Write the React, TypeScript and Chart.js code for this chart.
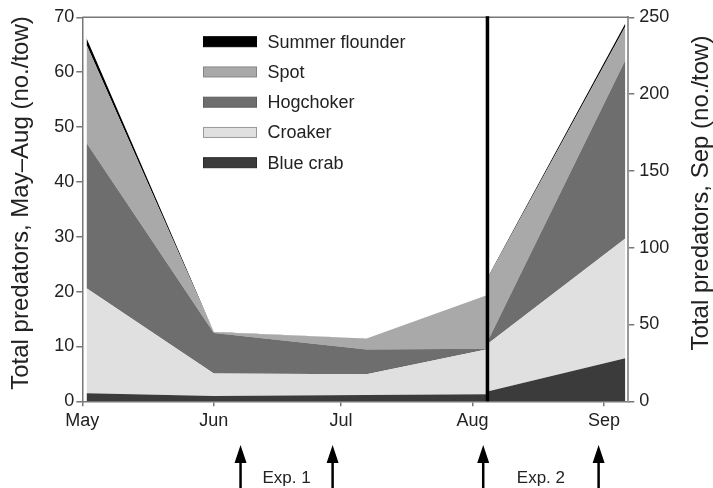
import React, { useEffect, useRef } from 'react';
import { Chart, registerables } from 'chart.js';

Chart.register(...registerables);

// ---- Data (days counted from May 1) ----
const species = ['Blue crab', 'Croaker', 'Hogchoker', 'Spot', 'Summer flounder'];
const fillColors = ['#3b3b3b', '#e0e0e0', '#6e6e6e', '#a9a9a9', '#000000'];
const legendBorders = ['#2a2a2a', '#9a9a9a', '#5e5e5e', '#858585', '#000000'];

const mayAugDays = [1, 31, 67, 95.5];
const sepDays = [95.5, 128];

// May–Aug values (left axis, no./tow), per species layer
const blueCrabMayAug = [1.45, 0.97, 1.15, 1.3];
const croakerMayAug = [19.15, 4.1, 3.8, 8.2];
const hogchokerMayAug = [26.5, 7.4, 4.5, 0.1];
const spotMayAug = [17.9, 0.1, 2.0, 9.8];
const flounderMayAug = [1.2, 0.05, 0, 0];

// Aug–Sep values (right axis, no./tow)
const blueCrabSep = [6.3, 28];
const croakerSep = [31, 78];
const hogchokerSep = [1.5, 116];
const spotSep = [41, 22];
const flounderSep = [0.5, 2];

const monthStarts = [0, 31, 61, 92, 123];
const monthLabels = ['May', 'Jun', 'Jul', 'Aug', 'Sep'];
const xMax = 128.7;
const leftMax = 70;
const leftStep = 10;
const rightMax = 250;
const rightStep = 50;
const dividerDay = 95.5;
const arrowDays = [37.3, 59, 94.5, 121.7];
const expLabels = ['Exp. 1', 'Exp. 2'];
const leftTitle = 'Total predators, May\u2013Aug (no./tow)';
const rightTitle = 'Total predators, Sep (no./tow)';

const FONT = '"Liberation Sans", Arial, Helvetica, sans-serif';
const AXIS = '#777777';

const mayAugSeries = [blueCrabMayAug, croakerMayAug, hogchokerMayAug, spotMayAug, flounderMayAug];
const sepSeries = [blueCrabSep, croakerSep, hogchokerSep, spotSep, flounderSep];

function makeDatasets(days: number[], series: number[][], axis: string, stack: string) {
  return series.map((vals, i) => ({
    label: species[i],
    data: vals.map((v, j) => ({ x: days[j], y: v })),
    yAxisID: axis,
    stack,
    fill: i === 0 ? 'origin' : '-1',
    backgroundColor: fillColors[i],
    borderColor: fillColors[i],
    borderWidth: 0,
    pointRadius: 0,
    tension: 0,
  }));
}

const overlay = {
  id: 'overlay',
  afterDraw(chart: any) {
    const { ctx, chartArea, scales } = chart;
    const xs = scales.x;
    ctx.save();
    // top frame line
    ctx.strokeStyle = AXIS;
    ctx.lineWidth = 1.5;
    ctx.beginPath();
    ctx.moveTo(chartArea.left, chartArea.top);
    ctx.lineTo(chartArea.right, chartArea.top);
    ctx.stroke();

    // divider line
    const xd = xs.getPixelForValue(dividerDay);
    ctx.strokeStyle = '#000';
    ctx.lineWidth = 3.5;
    ctx.beginPath();
    ctx.moveTo(xd, chartArea.top - 1);
    ctx.lineTo(xd, chartArea.bottom);
    ctx.stroke();

    // arrows
    ctx.fillStyle = '#000';
    ctx.strokeStyle = '#000';
    const tipY = 445;
    const headY = 463;
    const baseY = 490;
    arrowDays.forEach((d) => {
      const ax = xs.getPixelForValue(d);
      ctx.lineWidth = 2.5;
      ctx.beginPath();
      ctx.moveTo(ax, headY - 1);
      ctx.lineTo(ax, baseY);
      ctx.stroke();
      ctx.beginPath();
      ctx.moveTo(ax, tipY);
      ctx.lineTo(ax - 6, headY);
      ctx.lineTo(ax + 6, headY);
      ctx.closePath();
      ctx.fill();
    });
    // experiment labels
    ctx.font = `17px ${FONT}`;
    ctx.fillStyle = '#222';
    ctx.textAlign = 'center';
    ctx.textBaseline = 'middle';
    expLabels.forEach((lab, k) => {
      const a = xs.getPixelForValue(arrowDays[2 * k]);
      const b = xs.getPixelForValue(arrowDays[2 * k + 1]);
      ctx.fillText(lab, (a + b) / 2, 478);
    });

    // legend (top to bottom: reverse of stacking)
    ctx.font = `18px ${FONT}`;
    ctx.textAlign = 'left';
    ctx.textBaseline = 'middle';
    const order = [4, 3, 2, 1, 0];
    order.forEach((si, row) => {
      const cy = 41.7 + row * 30.25;
      ctx.fillStyle = fillColors[si];
      ctx.fillRect(203.5, cy - 5, 53, 10);
      ctx.strokeStyle = legendBorders[si];
      ctx.lineWidth = 1;
      ctx.strokeRect(203.5, cy - 5, 53, 10);
      ctx.fillStyle = '#222';
      ctx.fillText(species[si], 267.5, cy + 1);
    });

    // axis titles
    ctx.font = `24px ${FONT}`;
    ctx.fillStyle = '#222';
    ctx.textAlign = 'center';
    ctx.textBaseline = 'middle';
    ctx.save();
    ctx.translate(21, 203);
    ctx.rotate(-Math.PI / 2);
    ctx.fillText(leftTitle, 0, 0);
    ctx.restore();
    ctx.save();
    ctx.translate(701, 193);
    ctx.rotate(-Math.PI / 2);
    ctx.fillText(rightTitle, 0, 0);
    ctx.restore();

    ctx.restore();
  },
};

export default function App() {
  const canvasRef = useRef<HTMLCanvasElement | null>(null);

  useEffect(() => {
    if (!canvasRef.current) return;
    const tickFont = { family: FONT, size: 18 };
    const chart = new Chart(canvasRef.current, {
      type: 'line',
      data: {
        datasets: [
          ...makeDatasets(mayAugDays, mayAugSeries, 'y', 'left'),
          ...makeDatasets(sepDays, sepSeries, 'y2', 'right'),
        ] as any,
      },
      options: {
        responsive: false,
        animation: false,
        devicePixelRatio: 1,
        events: [],
        layout: { padding: { top: 17.3, left: 0, right: 0, bottom: 0 } },
        plugins: {
          legend: { display: false },
          tooltip: { enabled: false },
          title: { display: false },
        },
        scales: {
          x: {
            type: 'linear',
            min: 0,
            max: xMax,
            afterBuildTicks: (scale: any) => {
              scale.ticks = monthStarts.map((v) => ({ value: v }));
            },
            afterFit: (scale: any) => {
              scale.height = 488 - 401.3;
            },
            ticks: {
              font: tickFont,
              color: '#222',
              padding: 4,
              maxRotation: 0,
              autoSkip: false,
              callback: (_v: any, i: number) => monthLabels[i],
            },
            grid: { drawOnChartArea: false, drawTicks: true, tickLength: 5, color: AXIS, lineWidth: 1.5 },
            border: { display: true, color: AXIS, width: 1.5 },
          },
          y: {
            type: 'linear',
            position: 'left',
            stacked: true,
            min: 0,
            max: leftMax,
            afterFit: (scale: any) => {
              scale.width = 82.3;
            },
            ticks: { stepSize: leftStep, font: tickFont, color: '#222', padding: 2 },
            grid: { drawOnChartArea: false, drawTicks: true, tickLength: 6, color: AXIS, lineWidth: 1.5 },
            border: { display: true, color: AXIS, width: 1.5 },
          },
          y2: {
            type: 'linear',
            position: 'right',
            stacked: true,
            min: 0,
            max: rightMax,
            afterFit: (scale: any) => {
              scale.width = 713 - 628.3;
            },
            ticks: { stepSize: rightStep, font: tickFont, color: '#222', padding: 5 },
            grid: { drawOnChartArea: false, drawTicks: true, tickLength: 6, color: AXIS, lineWidth: 1.5 },
            border: { display: true, color: '#999999', width: 2 },
          },
        },
      } as any,
      plugins: [overlay],
    });
    return () => chart.destroy();
  }, []);

  return (
    <div style={{ position: 'absolute', left: 0, top: 0, width: 713, height: 488, background: '#fff' }}>
      <canvas ref={canvasRef} width={713} height={488} style={{ display: 'block' }} />
    </div>
  );
}
